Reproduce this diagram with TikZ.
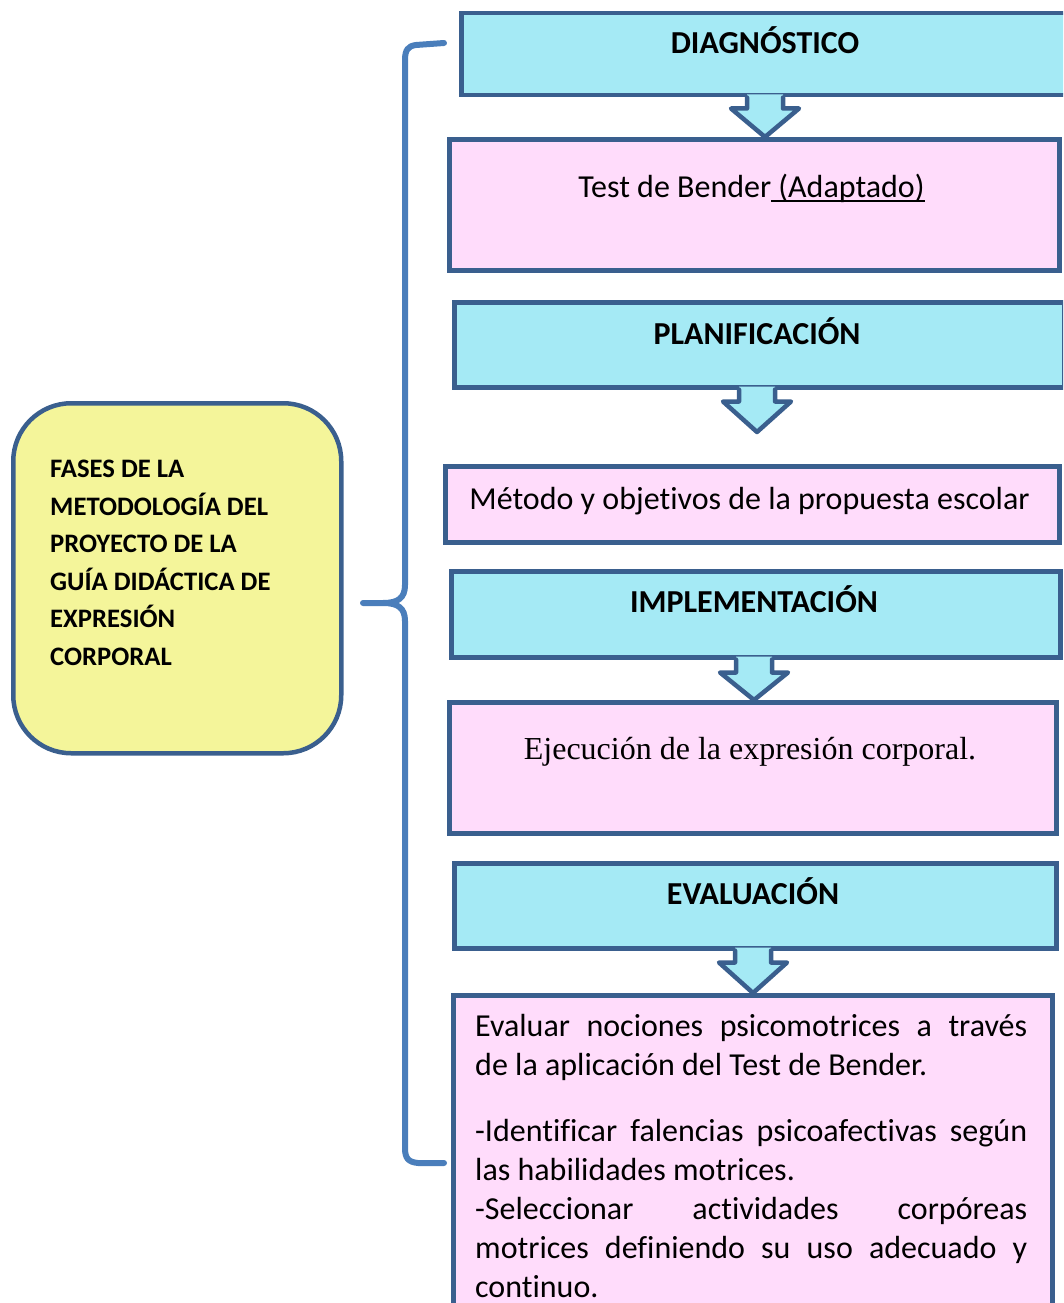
\documentclass[tikz,border=0pt]{standalone}
\usepackage{fontspec}
\setmainfont{Carlito}[Ligatures=NoCommon]
\newfontfamily\serifTNR{Liberation Serif}
\usetikzlibrary{calc}
\definecolor{bordr}{HTML}{3A5F8E}
\definecolor{cyanfill}{HTML}{A5EAF5}
\definecolor{pinkfill}{HTML}{FFDCFB}
\definecolor{yellowfill}{HTML}{F4F59A}
\definecolor{bracecol}{HTML}{4A7EBB}
\newcommand\ulword[1]{\setbox0\hbox{#1}\rlap{\rule[-5pt]{\wd0}{2pt}}\box0}
% #1 source box, #2 tip coordinate, #3 x of the arrow axis, #4 depth of the stem below the box
\newcommand\dcallout[4]{%
  \fill[cyanfill] let \p1=(#1.south), \p2=(#2) in
   (#3pt-18pt,\y1+3pt) -- (#3pt-18pt,\y1-#4pt) -- (#3pt-34pt,\y1-#4pt) -- (#3pt,\y2) --
   (#3pt+34pt,\y1-#4pt) -- (#3pt+18pt,\y1-#4pt) -- (#3pt+18pt,\y1+3pt) -- cycle;
  \draw[arrowline] let \p1=(#1.south), \p2=(#2) in
   (#3pt-18pt,\y1) -- (#3pt-18pt,\y1-#4pt) -- (#3pt-34pt,\y1-#4pt) -- (#3pt,\y2) --
   (#3pt+34pt,\y1-#4pt) -- (#3pt+18pt,\y1-#4pt) -- (#3pt+18pt,\y1);
}
\tikzset{
  cbox/.style={rectangle, draw=bordr, fill=cyanfill, line width=4.5pt, inner sep=0pt, anchor=north west},
  pbox/.style={rectangle, draw=bordr, fill=pinkfill, line width=4.5pt, inner sep=0pt, anchor=north west},
  arrowline/.style={draw=bordr, line width=4.5pt, line join=round, line cap=round},
  title/.style={inner sep=0pt, anchor=base, font=\fontsize{32}{39}\selectfont\bfseries},
  body/.style={inner sep=0pt, anchor=base, font=\fontsize{32}{39}\selectfont},
  brace/.style={draw=bracecol, line width=6pt, line cap=round, line join=round},
}
\begin{document}
\begin{tikzpicture}[x=1pt,y=-1pt]
\useasboundingbox (0,0) rectangle (1063,1303);
\clip (0,0) rectangle (1063,1303);
% left yellow box
\node[rectangle, rounded corners=58pt, draw=bordr, fill=yellowfill, line width=4.5pt,
      minimum width=328pt, minimum height=350pt, anchor=north west] (fases) at (11,401) {};
\node[inner sep=0pt, anchor=base west, font=\fontsize{26.67}{37.5}\selectfont\bfseries] (fasest) at (50,477.5)
  {\parbox[t]{270pt}{\raggedright FASES DE LA\\ METODOLOGÍA DEL\\ PROYECTO DE LA\\ GUÍA DIDÁCTICA DE\\ EXPRESIÓN\\ CORPORAL}};
% brace
\coordinate (bt) at (444,43);
\coordinate (bm) at (363,603);
\coordinate (bb) at (444,1163);
\draw[brace] (bt) -- (416,45) .. controls (408,46) and (405,50) .. (405,60) -- (405,585)
  .. controls (405,598) and (398,603) .. (383,603) -- (bm) -- (383,603)
  .. controls (398,603) and (405,608) .. (405,621) -- (405,1148)
  .. controls (405,1158) and (408,1162) .. (418,1163) -- (bb);
% boxes
\node[cbox, minimum width=612pt, minimum height=82pt] (diag) at (459,11) {};
\node[pbox, minimum width=610pt, minimum height=131pt] (test) at (447,137) {};
\node[cbox, minimum width=610pt, minimum height=85pt] (plan) at (452,300) {};
\node[pbox, minimum width=614pt, minimum height=76pt] (meto) at (443,464) {};
\node[cbox, minimum width=609pt, minimum height=86pt] (impl) at (449,569) {};
\node[pbox, minimum width=607pt, minimum height=131pt] (ejec) at (447,700) {};
\node[cbox, minimum width=602pt, minimum height=85pt] (eval) at (452,861) {};
\node[pbox, minimum width=599pt, minimum height=340pt] (fin) at (451,993) {};
% arrows
\coordinate (plantip) at (757,432);
\dcallout{diag}{test.north}{765}{11}
\dcallout{plan}{plantip}{757}{12}
\dcallout{impl}{ejec.north}{754}{13}
\dcallout{eval}{fin.north}{753}{12}
% texts
\node[title] (diagt) at (765,54) {DIAGNÓSTICO};
\node[body] (testt) at (751.5,197) {Test de Bender\ulword{ (Adaptado)}};
\node[title] (plant) at (757,344) {PLANIFICACIÓN};
\node[body] (metot) at (749.5,509) {Método y objetivos de la propuesta escolar};
\node[title] (implt) at (754,612) {IMPLEMENTACIÓN};
\node[body, font=\fontsize{32}{39}\selectfont\serifTNR] (eject) at (750,759.5) {Ejecución de la expresión corporal.};
\node[title] (evalt) at (753,904) {EVALUACIÓN};
\node[inner sep=0pt, anchor=base west, font=\fontsize{32}{39}\selectfont] (fint) at (475,1036)
  {\parbox[t]{552pt}{\hyphenpenalty=10000
   Evaluar nociones psicomotrices a través\linebreak de la aplicación del Test de Bender.\par
   \vspace{27pt}
   -Identificar falencias psicoafectivas según\linebreak las habilidades motrices.\par
   -Seleccionar actividades corpóreas\linebreak motrices definiendo su uso adecuado y\linebreak continuo.}};
\end{tikzpicture}
\end{document}
